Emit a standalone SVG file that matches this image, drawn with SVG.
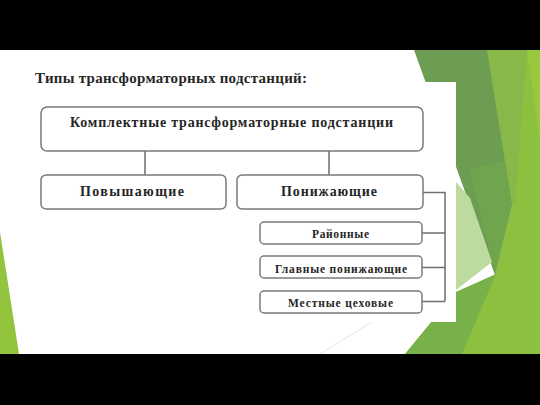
<svg xmlns="http://www.w3.org/2000/svg" width="540" height="405" viewBox="0 0 540 405">
<style>
.box{fill:#fff;stroke:#7a7a7a;stroke-width:1.5}
.con{fill:none;stroke:#6e6e6e;stroke-width:1.5}
.t{font-family:"Liberation Serif","Times New Roman",serif;font-weight:bold;fill:#262626;text-anchor:start}
</style>
<rect x="0" y="0" width="540" height="405" fill="#000"/>
<rect x="0" y="50" width="540" height="304" fill="#fff"/>
<g id="decor">
<polygon points="0,232 19,354 0,354" fill="#93c43e"/>
<polygon points="480,50 540,50 540,354 405,354 456,292 495,275 512,205" fill="#8dc03e"/>
<polygon points="487,50 527,50 515,205 512,205" fill="#88b84a"/>
<polygon points="527,50 540,50 540,140" fill="#98c83e"/>
<polygon points="405,354 462,354 496,274 456,292" fill="#78b14a"/>
<polygon points="414,50 487,50 512,205 495,275" fill="#6c9d52"/>
<polygon points="470,170 505,160 512,205 495,275" fill="#70a44d"/>
<polygon points="456,182 470,198 492,262 456,290" fill="#bddb9e"/>
<line x1="320" y1="354" x2="372" y2="322" stroke="#e6e6e6" stroke-width="1"/>
</g>
<rect x="0" y="354" width="540" height="51" fill="#000"/>
<rect x="30" y="82" width="426" height="240" fill="#fff"/>
<text class="t" x="35" y="83" font-size="15" textLength="272" lengthAdjust="spacing" fill="#333">Типы трансформаторных подстанций:</text>
<g id="connectors">
<path class="con" d="M145,151V175M329,151V175"/>
<path class="con" d="M423,192.5H445V301.5M422,233H445M422,267.5H445M422,301.5H445"/>
</g>
<g id="n-top">
<rect class="box" x="41" y="107" width="382" height="44" rx="6"/>
<text class="t" x="70" y="127" font-size="14" textLength="323" lengthAdjust="spacing">Комплектные трансформаторные подстанции</text>
</g>
<g id="n-up">
<rect class="box" x="41" y="175" width="185" height="34" rx="5"/>
<text class="t" x="80" y="196" font-size="14" textLength="104" lengthAdjust="spacing">Повышающие</text>
</g>
<g id="n-down">
<rect class="box" x="237" y="175" width="186" height="34" rx="5"/>
<text class="t" x="281" y="196" font-size="14" textLength="96" lengthAdjust="spacing">Понижающие</text>
</g>
<g id="n-rayon">
<rect class="box" x="260" y="222" width="162" height="22" rx="4"/>
<text class="t" x="312" y="238" font-size="11.5" textLength="57" lengthAdjust="spacing">Районные</text>
</g>
<g id="n-main">
<rect class="box" x="260" y="256" width="162" height="22" rx="4"/>
<text class="t" x="275" y="273" font-size="11.5" textLength="132" lengthAdjust="spacing">Главные понижающие</text>
</g>
<g id="n-local">
<rect class="box" x="260" y="291" width="162" height="22" rx="4"/>
<text class="t" x="288" y="307" font-size="11.5" textLength="105" lengthAdjust="spacing">Местные цеховые</text>
</g>
</svg>
